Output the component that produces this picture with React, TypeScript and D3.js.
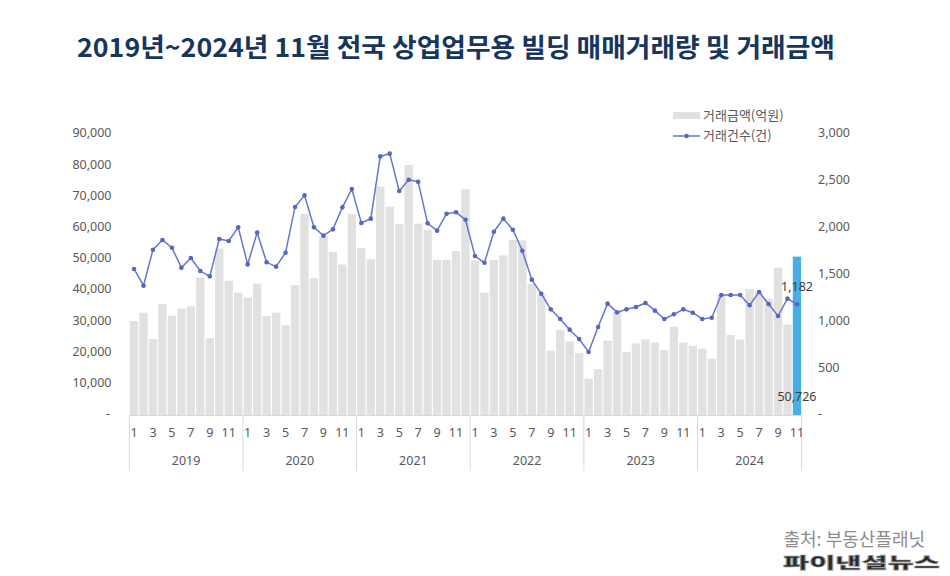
import React, { FC, useEffect, useRef } from "react"
import { select, scaleBand, scaleLinear, line, format, range } from "d3"

// 2019.01 ~ 2024.11
const years = ["2019", "2020", "2021", "2022", "2023", "2024"]
const monthsPerYear = [12, 12, 12, 12, 12, 11]

// 거래금액(억원)
const amounts = [
  30100, 32800, 24300, 35500, 31800, 34100, 34800, 44100, 24600, 53300, 42900, 39200,
  37600, 42100, 31700, 32800, 28700, 41600, 64400, 43800, 57300, 52200, 48200, 64400,
  53500, 49900, 73200, 66700, 61100, 80100, 61300, 59300, 49700, 49700, 52500, 72300,
  49500, 39200, 49700, 51100, 56100, 55900, 42000, 38500, 20600, 27200, 23600, 19800,
  11600, 14700, 23800, 33100, 20200, 22900, 24200, 23200, 20800, 28300, 23200, 22100,
  21200, 18000, 38500, 25600, 24200, 40300, 39500, 37200, 47200, 29000, 50726,
]

// 거래건수(건)
const counts = [
  1559, 1381, 1765, 1868, 1786, 1573, 1676, 1537, 1480, 1879, 1858, 2004,
  1608, 1947, 1630, 1584, 1733, 2221, 2345, 2004, 1915, 1982, 2217, 2413,
  2050, 2096, 2761, 2790, 2391, 2512, 2491, 2046, 1968, 2149, 2164, 2085,
  1697, 1626, 1957, 2096, 1978, 1754, 1445, 1295, 1128, 1025, 911, 811,
  673, 939, 1189, 1096, 1128, 1153, 1196, 1114, 1025, 1075, 1128, 1092,
  1025, 1039, 1281, 1281, 1281, 1171, 1313, 1185, 1057, 1242, 1182,
]

const leftTicks = [0, 10000, 20000, 30000, 40000, 50000, 60000, 70000, 80000, 90000]
const rightTicks = [0, 500, 1000, 1500, 2000, 2500, 3000]
const monthTicks = [1, 3, 5, 7, 9, 11]

const title = "2019년~2024년 11월 전국 상업업무용 빌딩 매매거래량 및 거래금액"
const seriesNames = ["거래금액(억원)", "거래건수(건)"]
const source = "출처: 부동산플래닛"
const watermark = "파이낸셜뉴스"

const font = "'Noto Sans', 'Noto Sans CJK KR', sans-serif"
const krFont = "'Noto Sans CJK KR', sans-serif"

type P = { year: number; month: number; amount: number; count: number }

const App: FC = () => {
  const wrapperRef = useRef<HTMLDivElement>(null)

  useEffect(() => {
    const el = wrapperRef.current
    if (!el) return
    select(el).selectAll("*").remove()

    const width = 950
    const height = 576
    const plot = { left: 129.3, right: 801.7, top: 134, bottom: 415 }

    const data: P[] = []
    years.forEach((_, yi) => {
      range(monthsPerYear[yi]).forEach((m) => {
        const i = data.length
        data.push({ year: yi, month: m + 1, amount: amounts[i], count: counts[i] })
      })
    })
    const last = data.length - 1

    const svg = select(el)
      .append("svg")
      .attr("width", width)
      .attr("height", height)
      .style("display", "block")
      .style("font-family", font)

    svg.append("rect").attr("width", width).attr("height", height).attr("fill", "#fff")

    // title
    svg
      .append("text")
      .attr("x", 77)
      .attr("y", 57)
      .attr("font-size", 26)
      .attr("font-weight", 700)
      .attr("textLength", 758)
      .attr("lengthAdjust", "spacingAndGlyphs")
      .attr("fill", "#17365d")
      .style("font-family", krFont)
      .text(title)

    // scales
    const xScale = scaleBand<number>()
      .domain(range(data.length))
      .range([plot.left, plot.right])
      .paddingInner(0.12)
      .paddingOuter(0.06)
    const step = xScale.step()
    const yLeft = scaleLinear().domain([0, 90000]).range([plot.bottom, plot.top])
    const yRight = scaleLinear().domain([0, 3000]).range([plot.bottom, plot.top])

    // bars
    svg
      .append("g")
      .selectAll("rect")
      .data(data)
      .join("rect")
      .attr("x", (_, i) => xScale(i) ?? 0)
      .attr("width", xScale.bandwidth())
      .attr("y", (d) => yLeft(d.amount))
      .attr("height", (d) => plot.bottom - yLeft(d.amount))
      .attr("fill", (_, i) => (i === last ? "#4aaee6" : "#e1e1e1"))

    // x axis line + year separators
    const axis = svg.append("g").attr("stroke", "#d9d9d9").attr("stroke-width", 1)
    axis
      .append("line")
      .attr("x1", plot.left)
      .attr("x2", plot.right)
      .attr("y1", plot.bottom + 0.5)
      .attr("y2", plot.bottom + 0.5)
    let start = 0
    const bounds = [0]
    monthsPerYear.forEach((n) => {
      start += n
      bounds.push(start)
    })
    axis
      .selectAll("line.sep")
      .data(bounds)
      .join("line")
      .attr("class", "sep")
      .attr("x1", (b) => plot.left + b * step)
      .attr("x2", (b) => plot.left + b * step)
      .attr("y1", plot.bottom)
      .attr("y2", 471)

    // month labels
    svg
      .append("g")
      .selectAll("text")
      .data(data.filter((d) => monthTicks.includes(d.month)))
      .join("text")
      .attr("x", (d) => (xScale(data.indexOf(d)) ?? 0) + xScale.bandwidth() / 2)
      .attr("y", 434)
      .attr("text-anchor", "middle")
      .attr("dominant-baseline", "middle")
      .attr("font-size", 12.5)
      .attr("fill", "#595959")
      .text((d) => d.month)

    // year labels
    svg
      .append("g")
      .selectAll("text")
      .data(years)
      .join("text")
      .attr("x", (_, i) => plot.left + ((bounds[i] + bounds[i + 1]) / 2) * step)
      .attr("y", 462)
      .attr("text-anchor", "middle")
      .attr("dominant-baseline", "middle")
      .attr("font-size", 12.5)
      .attr("fill", "#595959")
      .text((d) => d)

    // left axis labels
    const fmt = format(",")
    svg
      .append("g")
      .selectAll("text")
      .data(leftTicks)
      .join("text")
      .attr("x", (d) => (d === 0 ? 110 : 111.5))
      .attr("y", (d) => yLeft(d))
      .attr("text-anchor", "end")
      .attr("dominant-baseline", "middle")
      .attr("font-size", 12.5)
      .attr("fill", "#595959")
      .text((d) => (d === 0 ? "-" : fmt(d)))

    // right axis labels
    svg
      .append("g")
      .selectAll("text")
      .data(rightTicks)
      .join("text")
      .attr("x", 818)
      .attr("y", (d) => yRight(d))
      .attr("dominant-baseline", "middle")
      .attr("font-size", 12.5)
      .attr("fill", "#595959")
      .text((d) => (d === 0 ? "-" : fmt(d)))

    // count line
    const cx = (i: number) => (xScale(i) ?? 0) + xScale.bandwidth() / 2
    const lineGenerator = line<P>()
      .x((_, i) => cx(i))
      .y((d) => yRight(d.count))
    svg
      .append("path")
      .attr("d", lineGenerator(data))
      .attr("fill", "none")
      .attr("stroke", "#6576cc")
      .attr("stroke-width", 1.5)
    svg
      .append("g")
      .selectAll("circle")
      .data(data)
      .join("circle")
      .attr("cx", (_, i) => cx(i))
      .attr("cy", (d) => yRight(d.count))
      .attr("r", 2.3)
      .attr("fill", "#5566c4")

    // data labels
    svg
      .append("text")
      .attr("x", cx(last))
      .attr("y", yRight(data[last].count) - 17)
      .attr("text-anchor", "middle")
      .attr("dominant-baseline", "middle")
      .attr("font-size", 12.5)
      .attr("fill", "#404040")
      .text(fmt(data[last].count))
    svg
      .append("text")
      .attr("x", cx(last))
      .attr("y", 398)
      .attr("text-anchor", "middle")
      .attr("dominant-baseline", "middle")
      .attr("font-size", 12.5)
      .attr("fill", "#404040")
      .text(fmt(data[last].amount))

    // legend
    const legend = svg.append("g")
    legend
      .append("rect")
      .attr("x", 673)
      .attr("y", 112)
      .attr("width", 27)
      .attr("height", 7)
      .attr("fill", "#e1e1e1")
    legend
      .append("line")
      .attr("x1", 673)
      .attr("x2", 700)
      .attr("y1", 136)
      .attr("y2", 136)
      .attr("stroke", "#6576cc")
      .attr("stroke-width", 1.5)
    legend.append("circle").attr("cx", 686.5).attr("cy", 136).attr("r", 2.3).attr("fill", "#5566c4")
    legend
      .selectAll("text")
      .data(seriesNames)
      .join("text")
      .attr("x", 703)
      .attr("y", (_, i) => 116 + i * 20)
      .attr("dominant-baseline", "middle")
      .attr("font-size", 13)
      .attr("fill", "#595959")
      .style("font-family", krFont)
      .text((d) => d)

    // source + watermark
    svg
      .append("text")
      .attr("x", 925)
      .attr("y", 541)
      .attr("text-anchor", "end")
      .attr("dominant-baseline", "middle")
      .attr("font-size", 18)
      .attr("fill", "#8c8c8c")
      .style("font-family", krFont)
      .text(source)
    svg
      .append("text")
      .attr("x", 783)
      .attr("y", 564)
      .attr("dominant-baseline", "middle")
      .attr("font-size", 15)
      .attr("font-weight", 900)
      .attr("textLength", 157)
      .attr("lengthAdjust", "spacingAndGlyphs")
      .attr("fill", "#2a2a2a")
      .attr("stroke", "#9a9a9a")
      .attr("stroke-width", 0.6)
      .style("font-family", krFont)
      .text(watermark)
  }, [])

  return (
    <div
      ref={wrapperRef}
      style={{ position: "absolute", left: 0, top: 0, width: 950, height: 576 }}
    />
  )
}

export default App
